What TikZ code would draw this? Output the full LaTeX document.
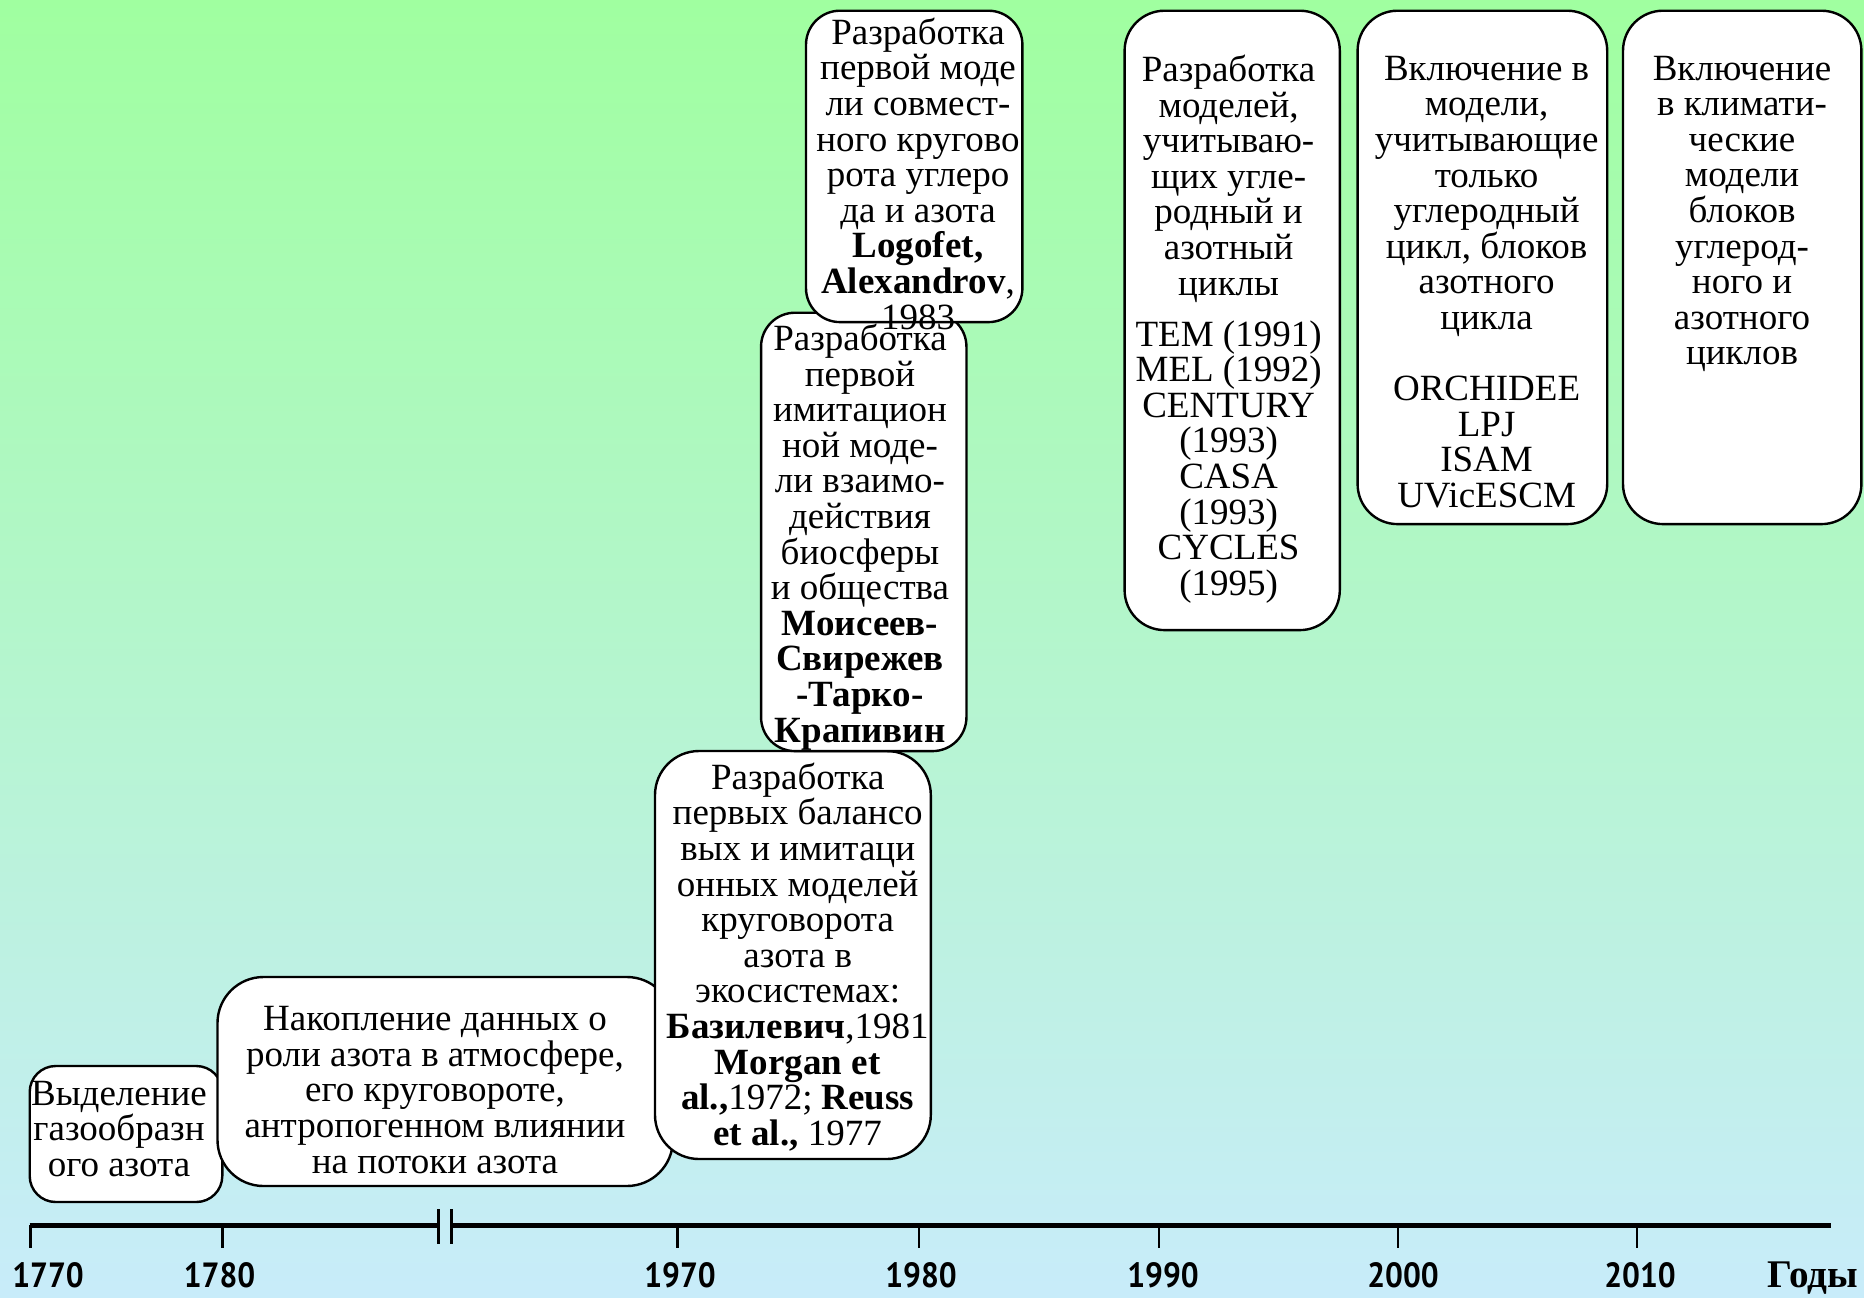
\documentclass[tikz,border=0pt]{standalone}
\usepackage{fontspec}
\setmainfont{Liberation Serif}
\newfontfamily\yearfont{PT Sans}[BoldFont={PT Sans Bold}, BoldFeatures={FakeStretch=0.9}]
\definecolor{bgtop}{RGB}{160,255,160}
\definecolor{bgbot}{RGB}{200,236,250}
\begin{document}
\begin{tikzpicture}[x=0.5pt,y=0.5pt,
  box/.style={draw=black, line width=1.2pt, fill=white, rounded corners=#1, inner sep=0pt, shape=rectangle},
  box/.default=18pt,
  txt/.style={align=center, inner sep=0pt, font=\fontsize{18.5}{17.8}\selectfont},
  yr/.style={anchor=base, inner sep=0pt, font=\yearfont\bfseries\fontsize{17.5}{18}\selectfont},
  axisline/.style={line width=2.6pt},
  tickline/.style={line width=1.4pt}]
\useasboundingbox (0,0) rectangle (1864,-1297);
\shade[top color=bgtop, bottom color=bgbot] (0,0) rectangle (1864,-1297);

% boxes
\node[box=13pt, minimum width=96.3pt, minimum height=68pt] (b1) at (126,-1134) {};
\node[box=23pt, minimum width=227.7pt, minimum height=104.5pt] (b2) at (445.2,-1081.5) {};
\node[box=22pt, minimum width=137.9pt, minimum height=204pt] (b3) at (792.9,-955) {};
\node[box=17pt, minimum width=102.7pt, minimum height=219.2pt] (b4) at (863.75,-531.9) {};
\node[box=17pt, minimum width=108.2pt, minimum height=155.7pt] (b5) at (914.2,-166.4) {};
\node[box=20pt, minimum width=107.6pt, minimum height=309.7pt] (b6) at (1232.2,-320.4) {};
\node[box=20pt, minimum width=124.8pt, minimum height=256.7pt] (b7) at (1482.4,-267.4) {};
\node[box=20pt, minimum width=119.2pt, minimum height=256.7pt] (b8) at (1742.2,-267.4) {};

% texts
\node[txt] (t1) at (119,-1129) {Выделение\\газообразн\\ого азота};
\node[txt] (t2) at (435,-1090) {Накопление данных о\\роли азота в атмосфере,\\его круговороте,\\антропогенном влиянии\\на потоки азота};
\node[txt] (t3) at (797.7,-957) {Разработка\\первых балансо\\вых и имитаци\\онных моделей\\круговорота\\азота в\\экосистемах:\\\textbf{Базилевич},1981\\\textbf{Morgan et}\\\textbf{al.,}1972; \textbf{Reuss}\\\textbf{et al.,} 1977};
\node[txt] (t4) at (860,-537) {Разработка\\первой\\имитацион\\ной моде-\\ли взаимо-\\действия\\биосферы\\и общества\\\textbf{Моисеев-}\\\textbf{Свирежев}\\\textbf{-Тарко-}\\\textbf{Крапивин}};
\node[txt] (t5) at (918,-173.6) {Разработка\\первой моде\\ли совмест-\\ного кругово\\рота углеро\\да и азота\\\textbf{Logofet,}\\\textbf{Alexandrov}, \\1983};
\node[txt] (t6) at (1228.6,-329) {Разработка\\моделей,\\учитываю-\\щих угле-\\родный и\\азотный\\циклы\\[7.7pt]TEM (1991)\\MEL (1992)\\CENTURY\\(1993)\\CASA\\(1993)\\CYCLES\\(1995)};
\node[txt] (t7) at (1486.6,-282) {Включение в\\модели,\\учитывающие\\только\\углеродный\\цикл, блоков\\азотного\\цикла\\[17.8pt]ORCHIDEE\\LPJ\\ISAM\\UVicESCM};
\node[txt] (t8) at (1742,-214) {Включение\\в климати-\\ческие\\модели\\блоков\\углерод-\\ного и\\азотного\\циклов};

% axis
\coordinate (a0) at (29.7,-1225.6);
\coordinate (a1) at (438.7,-1225.6);
\coordinate (a2) at (451.7,-1225.6);
\coordinate (a3) at (1830.8,-1225.6);
\draw[axisline] (a0) -- (a1);
\draw[axisline] (a2) -- (a3);
\draw[tickline] (438.7,-1209) -- (438.7,-1243.5);
\draw[tickline] (451.7,-1209) -- (451.7,-1243.5);
\foreach \x in {30.4,222.3,677.6,918.9,1159,1398,1637}{
  \draw[tickline] (\x,-1224.5) -- (\x,-1248);
}
\node[yr] (y1770) at (48,-1287) {1770};
\node[yr] (y1780) at (219.5,-1287) {1780};
\node[yr] (y1970) at (680,-1287) {1970};
\node[yr] (y1980) at (921,-1287) {1980};
\node[yr] (y1990) at (1163,-1287) {1990};
\node[yr] (y2000) at (1403,-1287) {2000};
\node[yr] (y2010) at (1640,-1287) {2010};
\node[anchor=base, inner sep=0pt, font=\fontsize{19.6}{20}\selectfont\bfseries] (years) at (1813,-1287) {Годы};
\end{tikzpicture}
\end{document}
